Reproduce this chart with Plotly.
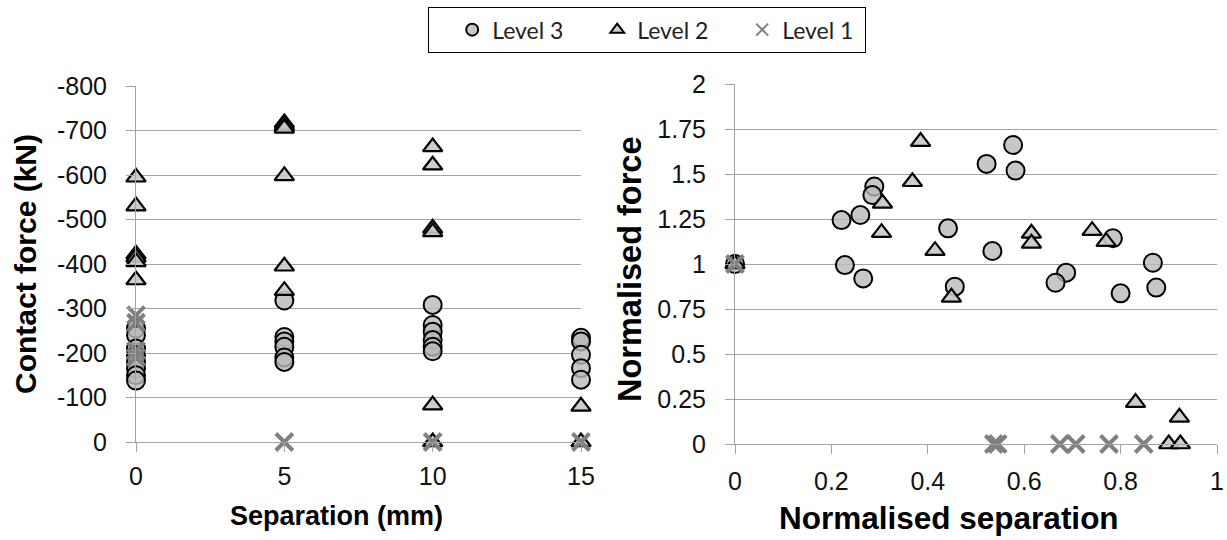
import plotly.graph_objects as go

# ---------------- data: left panel (Separation mm vs contact force kN) ----------------
l3_sep = [0, 0, 0, 0, 0, 0, 0, 0,
          5, 5, 5, 5, 5, 5,
          10, 10, 10, 10, 10, 10,
          15, 15, 15, 15, 15]
l3_force = [-255, -240, -210, -195, -180, -165, -150, -138,
            -318, -236, -226, -214, -190, -180,
            -308, -263, -248, -229, -214, -204,
            -234, -226, -196, -166, -140]

l2_sep = [0, 0, 0, 0, 0, 0,
          5, 5, 5, 5, 5, 5,
          10, 10, 10, 10, 10, 10,
          15, 15]
l2_force = [-595, -530, -422, -415, -405, -364,
            -717, -711, -705, -598, -395, -340,
            -663, -622, -480, -472, -83, 0,
            -80, 0]

l1_sep = [0, 0, 0, 0, 5, 10, 15]
l1_force = [-285, -268, -205, -190, 0, 0, 0]

# ---------------- data: right panel (normalised) ----------------
n3_sep = [0, 0.221, 0.26, 0.289, 0.285, 0.228, 0.266, 0.442, 0.456,
          0.577, 0.522, 0.582, 0.534, 0.687, 0.665, 0.784, 0.8, 0.867, 0.874]
n3_force = [1, 1.244, 1.272, 1.43, 1.383, 0.994, 0.92, 1.198, 0.874,
            1.661, 1.556, 1.519, 1.072, 0.952, 0.896, 1.143, 0.837, 1.007, 0.869]

n2_sep = [0, 0.385, 0.368, 0.306, 0.304, 0.415, 0.449,
          0.615, 0.615, 0.741, 0.77, 0.831, 0.922, 0.9, 0.924]
n2_force = [1, 1.68, 1.457, 1.337, 1.174, 1.074, 0.815,
            1.17, 1.115, 1.185, 1.124, 0.23, 0.148, 0, 0]

n1_sep = [0, 0.537, 0.545, 0.674, 0.707, 0.776, 0.848]
n1_force = [1, 0, 0, 0, 0, 0, 0]

left_yticks = [0, -100, -200, -300, -400, -500, -600, -700, -800]
left_yticktext = ["0", "-100", "-200", "-300", "-400", "-500", "-600", "-700", "-800"]
left_xticks = [0, 5, 10, 15]
right_yticks = [0, 0.25, 0.5, 0.75, 1, 1.25, 1.5, 1.75, 2]
right_yticktext = ["0", "0.25", "0.5", "0.75", "1", "1.25", "1.5", "1.75", "2"]
right_xticks = [0, 0.2, 0.4, 0.6, 0.8, 1]
right_xticktext = ["0", "0.2", "0.4", "0.6", "0.8", "1"]

names = ["Level 3", "Level 2", "Level 1"]

# ---------------- styles ----------------
W, H = 1227, 540
grid = "#a3a3a3"
circle_marker = dict(symbol="circle", size=18, color="rgba(185,185,185,0.8)",
                     line=dict(color="black", width=2))
tri_marker = dict(symbol="triangle-up", size=17, color="rgba(200,200,200,0.9)",
                  line=dict(color="black", width=2.2))
x_marker = dict(symbol="x-thin", size=17, color="#808080",
                line=dict(color="#808080", width=4))

fig = go.Figure()


def add(xs, ys, name, marker, xa, ya, show):
    fig.add_trace(go.Scatter(x=xs, y=ys, mode="markers", name=name, marker=marker,
                             xaxis=xa, yaxis=ya, legendgroup=name, showlegend=show,
                             cliponaxis=False))


add(l3_sep, l3_force, names[0], circle_marker, "x", "y", True)
add(l2_sep, l2_force, names[1], tri_marker, "x", "y", True)
add(l1_sep, l1_force, names[2], x_marker, "x", "y", True)
add(n3_sep, n3_force, names[0], circle_marker, "x2", "y2", False)
add(n2_sep, n2_force, names[1], tri_marker, "x2", "y2", False)
add(n1_sep, n1_force, names[2], x_marker, "x2", "y2", False)

tickfont = dict(family="Liberation Sans, Arial, sans-serif", size=25, color="#111")
titlefont = dict(family="Liberation Sans, Arial, sans-serif", size=27, color="black")

axis_common = dict(showline=True, linecolor=grid, linewidth=1, ticks="outside",
                   tickcolor=grid, ticklen=9, tickwidth=1, tickfont=tickfont,
                   zeroline=False, automargin=False)

fig.update_layout(
    width=W, height=H,
    margin=dict(l=0, r=0, t=0, b=0, autoexpand=False),
    paper_bgcolor="white", plot_bgcolor="white",
    showlegend=True,
    legend=dict(orientation="h", x=428 / W, xanchor="left", y=1 - 7 / H, yanchor="top",
                bordercolor="black", borderwidth=1.2, bgcolor="white",
                font=dict(family="Lato, Noto Sans, sans-serif", size=23, color="#222"),
                entrywidth=77, entrywidthmode="pixels", traceorder="normal",
                itemsizing="constant", indentation=23),
    xaxis=dict(domain=[136 / W, 581 / W], range=[0, 15], tickvals=left_xticks,
               showgrid=False, anchor="y", ticklabelstandoff=3, **axis_common),
    yaxis=dict(domain=[1 - 442 / H, 1 - 86 / H], range=[0, -800], tickvals=left_yticks,
               ticktext=left_yticktext, showgrid=True, gridcolor=grid, gridwidth=1,
               anchor="x", ticklabelstandoff=14, **axis_common),
    xaxis2=dict(domain=[735 / W, 1217 / W], range=[0, 1], tickvals=right_xticks,
                ticktext=right_xticktext, showgrid=False, anchor="y2",
                ticklabelstandoff=6, **axis_common),
    yaxis2=dict(domain=[1 - 444 / H, 1 - 84 / H], range=[0, 2], tickvals=right_yticks,
                ticktext=right_yticktext, showgrid=True, gridcolor=grid, gridwidth=1,
                anchor="x2", ticklabelstandoff=14, **axis_common),
)

# axis titles as annotations (positioned like the reference)
fig.add_annotation(text="<b>Separation (mm)</b>", x=336 / W, y=1 - 516 / H,
                   xref="paper", yref="paper", showarrow=False, font=titlefont,
                   xanchor="center", yanchor="middle")
fig.add_annotation(text="<b>Normalised separation</b>", x=949 / W, y=1 - 518 / H,
                   xref="paper", yref="paper", showarrow=False,
                   font=dict(titlefont, size=31.5), xanchor="center", yanchor="middle")
fig.add_annotation(text="<b>Contact force (kN)</b>", x=25 / W, y=1 - 264 / H,
                   xref="paper", yref="paper", showarrow=False, font=dict(titlefont, size=30),
                   textangle=-90, xanchor="center", yanchor="middle")
fig.add_annotation(text="<b>Normalised force</b>", x=630 / W, y=1 - 269 / H,
                   xref="paper", yref="paper", showarrow=False, font=dict(titlefont, size=32.5),
                   textangle=-90, xanchor="center", yanchor="middle")

fig.write_html("out.html")
